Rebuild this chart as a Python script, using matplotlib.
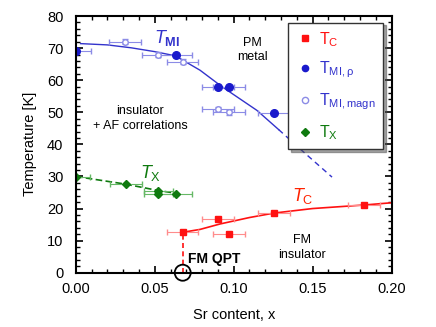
import matplotlib
matplotlib.use("Agg")
import matplotlib.pyplot as plt
from matplotlib.lines import Line2D
from matplotlib.patches import Ellipse
from matplotlib.ticker import MultipleLocator

plt.rcParams['font.family'] = ['Liberation Sans', 'DejaVu Sans']
plt.rcParams['mathtext.fontset'] = 'custom'
plt.rcParams['mathtext.rm'] = 'Liberation Sans'
plt.rcParams['mathtext.it'] = 'Liberation Sans:italic'
plt.rcParams['mathtext.bf'] = 'Liberation Sans:bold'
plt.rcParams['mathtext.sf'] = 'Liberation Sans'

# T_MI from resistivity (filled blue)
rho_x = [0.0, 0.0633, 0.090, 0.097, 0.1257]
rho_T = [69.0, 68.0, 57.8, 57.8, 49.8]
rho_xerr = [0.0095, 0.010, 0.010, 0.010, 0.0105]

# T_MI from magnetisation (open circles)
mag_x = [0.031, 0.052, 0.0677, 0.090, 0.097]
mag_T = [72.0, 68.0, 65.8, 51.0, 50.0]
mag_xerr = [0.010, 0.010, 0.010, 0.010, 0.010]

# T_X (green diamonds)
tx_x = [0.0, 0.0316, 0.0523, 0.0523, 0.0633]
tx_T = [29.8, 27.6, 25.6, 24.6, 24.6]
tx_xerr = [0.009, 0.010, 0.009, 0.009, 0.010]

# T_C (red squares)
tc_x = [0.0677, 0.090, 0.0971, 0.1257, 0.1825]
tc_T = [12.6, 16.6, 12.2, 18.6, 21.1]
tc_xerr = [0.010, 0.010, 0.010, 0.010, 0.010]

# guide lines
tmi_line_x = [0.003, 0.02, 0.035, 0.05, 0.063, 0.0787, 0.0925, 0.1147, 0.1285]
tmi_line_T = [71.4, 71.0, 70.1, 68.9, 67.6, 63.1, 58.0, 50.6, 44.6]
tmi_dash_x = [0.1285, 0.145, 0.1623]
tmi_dash_T = [44.6, 37.3, 29.8]
tc_line_x = [0.0677, 0.0787, 0.0914, 0.11, 0.1257, 0.15, 0.1825, 0.2]
tc_line_T = [12.6, 13.5, 15.2, 17.2, 18.6, 20.0, 21.1, 21.8]
tx_line_x = [0.0, 0.0316, 0.0523, 0.0633]
tx_line_T = [30.0, 27.6, 25.6, 24.8]
qpt_x = 0.0677

blue = '#1a1acc'
blue_line = '#3333cc'
light_blue = '#8c8ce6'
red = '#ff1111'
light_red = '#ff8c8c'
green = '#0f7a0f'
light_green = '#66b866'

fig, ax = plt.subplots(figsize=(4.36, 3.27), dpi=100)
fig.subplots_adjust(left=0.174, right=0.898, bottom=0.166, top=0.951)

ax.plot(tmi_line_x, tmi_line_T, color=blue_line, lw=1.0)
ax.plot(tmi_dash_x, tmi_dash_T, color=blue_line, lw=1.0, ls=(0, (4, 3)))
ax.plot(tc_line_x, tc_line_T, color=red, lw=1.2)
ax.plot(tx_line_x, tx_line_T, color=green, lw=1.2, ls=(0, (4, 2)))
ax.plot([qpt_x, qpt_x], [0, tc_T[0]], color=red, lw=1.2, ls=(0, (3, 2)))

ax.errorbar(mag_x, mag_T, xerr=mag_xerr, yerr=0.7, fmt='o', ms=4, mfc='white',
            mec=light_blue, ecolor=light_blue, elinewidth=0.8, capsize=2)
ax.errorbar(rho_x, rho_T, xerr=rho_xerr, fmt='o', ms=5.5, color=blue,
            ecolor=light_blue, elinewidth=0.8, capsize=2)
ax.errorbar(tx_x, tx_T, xerr=tx_xerr, fmt='D', ms=4.5, color=green,
            ecolor=light_green, elinewidth=0.8, capsize=2)
ax.errorbar(tc_x, tc_T, xerr=tc_xerr, fmt='s', ms=5, color=red,
            ecolor=light_red, elinewidth=0.8, capsize=2)

ax.add_patch(Ellipse((qpt_x, 0), 0.0101, 5.0, fill=False, ec='black', lw=1.3,
                     clip_on=False, zorder=5))

ax.text(0.0495, 71.5, r'$\mathit{T}_{\mathbf{MI}}$', color=blue_line, fontsize=13)
ax.text(0.0405, 29.5, r'$\mathit{T}_{\mathrm{X}}$', color=green, fontsize=13)
ax.text(0.137, 22.5, r'$\mathit{T}_{\mathrm{C}}$', color='#ff2200', fontsize=13)
ax.text(0.112, 69.4, 'PM\nmetal', ha='center', va='center', fontsize=9, linespacing=1.3)
ax.text(0.0406, 48.0, 'insulator\n+ AF correlations', ha='center', va='center',
        fontsize=9, linespacing=1.3)
ax.text(0.143, 7.9, 'FM\ninsulator', ha='center', va='center', fontsize=9, linespacing=1.3)
ax.text(0.0712, 4.4, 'FM QPT', ha='left', va='center', fontsize=10, fontweight='bold')

handles = [
    Line2D([], [], ls='none', marker='s', ms=4.5, color=red),
    Line2D([], [], ls='none', marker='o', ms=4.5, color=blue),
    Line2D([], [], ls='none', marker='o', ms=4.5, mfc='white', mec=light_blue),
    Line2D([], [], ls='none', marker='D', ms=4, color=green),
]
labels = [r'$\mathsf{T_C}$', r'$\mathsf{T_{MI,\rho}}$', r'$\mathsf{T_{MI,magn}}$',
          r'$\mathsf{T_X}$']
leg = ax.legend(handles, labels, loc='upper right', bbox_to_anchor=(0.9725, 0.974),
                fontsize=11.5, frameon=True, fancybox=False, shadow=True,
                labelspacing=0.7, handletextpad=0.3, handlelength=1.2,
                borderpad=0.45, borderaxespad=0)
leg.get_frame().set_edgecolor('#333333')
leg.get_frame().set_linewidth(1.0)
for txt, c in zip(leg.get_texts(), [red, blue_line, blue_line, green]):
    txt.set_color(c)

ax.set_xlim(0, 0.2)
ax.set_ylim(0, 80)
ax.xaxis.set_major_locator(MultipleLocator(0.05))
ax.xaxis.set_minor_locator(MultipleLocator(0.01))
ax.yaxis.set_major_locator(MultipleLocator(10))
ax.yaxis.set_minor_locator(MultipleLocator(2))
ax.xaxis.set_major_formatter(matplotlib.ticker.FormatStrFormatter('%.2f'))
ax.tick_params(which='both', direction='in', top=True, right=True, labelsize=10.5)
ax.tick_params(which='major', length=5, width=1.2)
ax.tick_params(which='minor', length=3, width=1.0)
ax.tick_params(axis='x', which='major', pad=7)
ax.tick_params(axis='y', which='major', pad=9)
for s in ax.spines.values():
    s.set_linewidth(1.5)
ax.set_xlabel('Sr content, x', fontsize=10.5, labelpad=8)
ax.set_ylabel('Temperature [K]', fontsize=10.5, labelpad=7)

fig.savefig('out.png', dpi=100)
